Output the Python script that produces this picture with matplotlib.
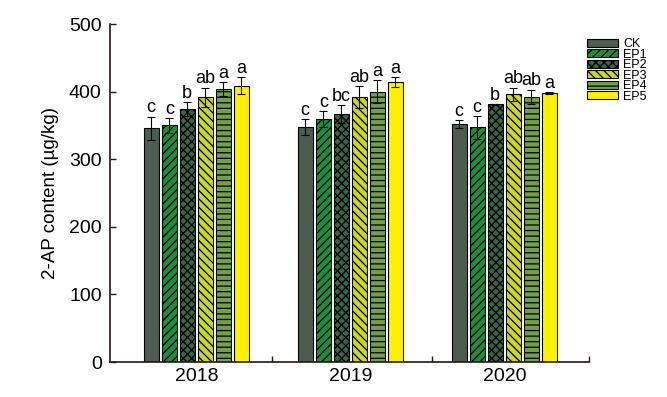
import numpy as np
import matplotlib.pyplot as plt

plt.rcParams['font.family'] = ['Liberation Sans', 'DejaVu Sans']
plt.rcParams['hatch.linewidth'] = 0.9

years = ['2018', '2019', '2020']
treatments = ['CK', 'EP1', 'EP2', 'EP3', 'EP4', 'EP5']

# mean 2-AP content (ug/kg) per treatment, one value per year
ck = [346, 348, 352]
ep1 = [350, 359, 347]
ep2 = [374, 367, 381]
ep3 = [392, 392, 396]
ep4 = [404, 400, 392]
ep5 = [409, 414, 398]

ck_err = [17, 12, 6]
ep1_err = [11, 12, 17]
ep2_err = [10, 13, 1]
ep3_err = [14, 16, 10]
ep4_err = [10, 17, 11]
ep5_err = [12, 7, 1]

ck_sig = ['c', 'c', 'c']
ep1_sig = ['c', 'c', 'c']
ep2_sig = ['b', 'bc', 'b']
ep3_sig = ['ab', 'ab', 'ab']
ep4_sig = ['a', 'a', 'ab']
ep5_sig = ['a', 'a', 'a']

means = [ck, ep1, ep2, ep3, ep4, ep5]
errs = [ck_err, ep1_err, ep2_err, ep3_err, ep4_err, ep5_err]
sigs = [ck_sig, ep1_sig, ep2_sig, ep3_sig, ep4_sig, ep5_sig]

colors = ['#4c5c51', '#1f8c3d', '#3a6347', '#c9d62c', '#72a04c', '#fff000']
hatches = [None, '////', 'xxxx', '\\\\\\\\', '---', None]

fig = plt.figure(figsize=(6.67, 3.97), dpi=100)
ax = fig.add_axes([0.165, 0.088, 0.718, 0.8515])

x = np.arange(1, len(years) + 1)
step = 0.117
width = 0.097
dark = '#231815'

for i, name in enumerate(treatments):
    pos = x + (i - 2.5) * step
    ax.bar(pos, means[i], width, color=colors[i], edgecolor='black',
           linewidth=0.8, hatch=hatches[i], label=name, zorder=2)
    ax.errorbar(pos, means[i], yerr=errs[i], fmt='none', ecolor='black',
                elinewidth=0.8, capsize=3.2, capthick=0.8, zorder=3)
    for p, m, e, s in zip(pos, means[i], errs[i], sigs[i]):
        ax.annotate(s, (p, m + e), xytext=(0, 3), textcoords='offset points',
                    ha='center', va='baseline', fontsize=13)

ax.set_xlim(0.44, 3.55)
ax.set_ylim(0, 500)
ax.set_yticks(range(0, 501, 100))
ax.set_xticks(x)
ax.set_xticklabels(years)
ax.set_xticks([1.49, 2.53, 3.55], minor=True)
ax.tick_params(axis='x', which='major', length=0, labelsize=14, pad=4)
ax.tick_params(axis='x', which='minor', direction='in', length=4,
               width=1, color=dark)
ax.tick_params(axis='y', direction='in', length=4, width=1, color=dark,
               labelsize=14, pad=6)

for side in ['top', 'right']:
    ax.spines[side].set_visible(False)
for side in ['left', 'bottom']:
    ax.spines[side].set_linewidth(1.2)
    ax.spines[side].set_color(dark)

ax.set_ylabel('2-AP content (\u00b5g/kg)', fontsize=13.5, labelpad=7)

ax.legend(loc='upper left', bbox_to_anchor=(0.996, 0.958), frameon=False,
          fontsize=9, handlelength=2.5, handleheight=0.6,
          labelspacing=-0.12, handletextpad=0.4, borderpad=0,
          borderaxespad=0)

fig.savefig('out.png', dpi=100)
